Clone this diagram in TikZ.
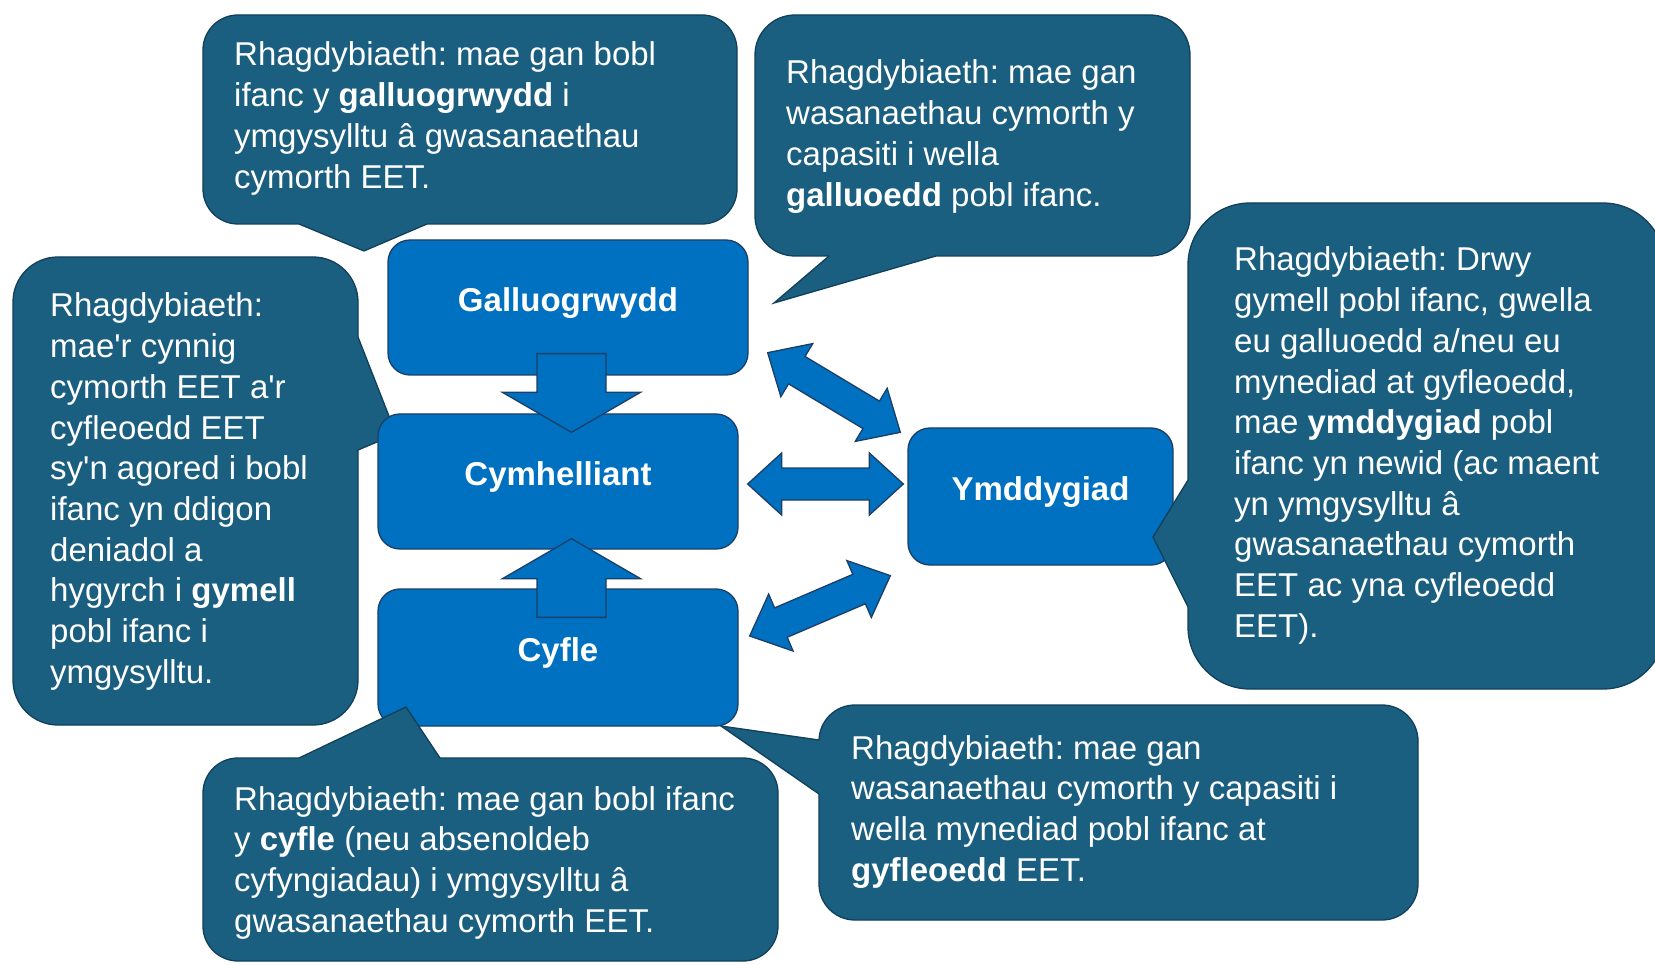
\documentclass[tikz,border=0pt]{standalone}
\usepackage{fontspec}
\setmainfont{Liberation Sans}
\usetikzlibrary{calc}
\definecolor{callfill}{HTML}{1A5E80}
\definecolor{callline}{HTML}{12405A}
\definecolor{boxfill}{HTML}{0070C0}
\definecolor{boxline}{HTML}{1B3F66}
\frenchspacing
\tikzset{
  callout/.style={fill=callfill, draw=callline, line width=1.3pt},
  tailedge/.style={draw=callline, line width=1.3pt, line join=miter},
  calltext/.style={anchor=base west, inner sep=0pt, text=white, font=\fontsize{33}{40.7}\selectfont\frenchspacing},
  box/.style={fill=boxfill, draw=boxline, line width=1.3pt, rounded corners=22pt, text=white,
    font=\fontsize{33}{40.7}\selectfont\bfseries, text height=24pt, text depth=16pt, inner sep=0pt},
  blockarrow/.style={fill=boxfill, draw=boxline, line width=1.3pt, line join=miter},
}
\newcommand{\lines}[1]{\begin{tabular}[t]{@{}l@{}}#1\end{tabular}}
% #1 radius, #2 #3 body corners, #4 tail base 1, #5 tail tip, #6 tail base 2, #7 shift into the body
\newcommand{\bubble}[7]{%
  \draw[callout, rounded corners=#1] #2 rectangle #3;
  \fill[callfill] ($#4+#7$) -- #4 -- #5 -- #6 -- ($#6+#7$) -- cycle;
  \draw[tailedge] #4 -- #5 -- #6;}
\newcommand{\singlearr}[2]{%
  \coordinate (sa) at ($(#2)!40pt!(#1)$);
  \draw[blockarrow] ($(#1)!34.5pt!90:(#2)$) -- ($(sa)!34.5pt!90:(#2)$) -- ($(sa)!69pt!90:(#2)$) -- (#2)
    -- ($(sa)!69pt!-90:(#2)$) -- ($(sa)!34.5pt!-90:(#2)$) -- ($(#1)!34.5pt!-90:(#2)$) -- cycle;}
\newcommand{\dblarr}[2]{%
  \coordinate (da1) at ($(#1)!34pt!(#2)$);
  \coordinate (da2) at ($(#2)!34pt!(#1)$);
  \draw[blockarrow] (#1) -- ($(da1)!31pt!90:(#2)$) -- ($(da1)!16pt!90:(#2)$) -- ($(da2)!16pt!-90:(#1)$)
    -- ($(da2)!31pt!-90:(#1)$) -- (#2) -- ($(da2)!31pt!90:(#1)$) -- ($(da2)!16pt!90:(#1)$)
    -- ($(da1)!16pt!-90:(#2)$) -- ($(da1)!31pt!-90:(#2)$) -- cycle;}
\begin{document}
\begin{tikzpicture}[x=1pt, y=-1pt]
\useasboundingbox (0,0) rectangle (1655,965);
\clip (0,0) rectangle (1655,965);
\fill[white] (0,0) rectangle (1655,965);

% top-left callout
\bubble{35pt}{(203,15)}{(737,224)}{(299,224)}{(364,251)}{(427,224)}{(0,-5)}
\node[calltext] (c1) at (234,66) {\lines{Rhagdybiaeth: mae gan bobl\\ifanc y \textbf{galluogrwydd} i\\ymgysylltu â gwasanaethau\\cymorth EET.}};

% top-middle callout
\bubble{40pt}{(755,15)}{(1190,256)}{(829,256)}{(774,303)}{(936,256)}{(0,-5)}
\node[calltext] (c2) at (786,84) {\lines{Rhagdybiaeth: mae gan\\wasanaethau cymorth y\\capasiti i wella\\\textbf{galluoedd} pobl ifanc.}};

% left callout
\bubble{45pt}{(13,257)}{(358,725)}{(358,337)}{(396,434)}{(358,450)}{(-5,0)}
\node[calltext] (c3) at (50,317) {\lines{Rhagdybiaeth:\\mae\textquotesingle r cynnig\\cymorth EET a\textquotesingle r\\cyfleoedd EET\\sy\textquotesingle n agored i bobl\\ifanc yn ddigon\\deniadol a\\hygyrch i \textbf{gymell}\\pobl ifanc i\\ymgysylltu.}};

% bottom-right callout
\bubble{36pt}{(819,705)}{(1418,920)}{(819,740)}{(721,726)}{(819,794)}{(5,0)}
\node[calltext] (c6) at (851,759) {\lines{Rhagdybiaeth: mae gan\\wasanaethau cymorth y capasiti i\\wella mynediad pobl ifanc at\\\textbf{gyfleoedd} EET.}};

% boxes
\node[box, minimum width=360pt, minimum height=135pt] (gal) at (568,307.5) {Galluogrwydd};
\node[box, minimum width=360pt, minimum height=135pt] (cym) at (558,481.5) {Cymhelliant};
\node[box, minimum width=360pt, minimum height=137pt] (cyf) at (558,657.5) {Cyfle};
\node[box, minimum width=265pt, minimum height=137pt] (ymd) at (1040.5,496.5) {Ymddygiad};

% bottom-left callout
\bubble{35pt}{(203,758)}{(778,961)}{(299,758)}{(406,707)}{(440,758)}{(0,5)}
\node[calltext] (c5) at (234,810) {\lines{Rhagdybiaeth: mae gan bobl ifanc\\y \textbf{cyfle} (neu absenoldeb\\cyfyngiadau) i ymgysylltu â\\gwasanaethau cymorth EET.}};

% right callout
\bubble{62pt}{(1188,203)}{(1665,689)}{(1188,480)}{(1153,537)}{(1188,607)}{(5,0)}
\node[calltext] (c4) at (1234,271) {\lines{Rhagdybiaeth: Drwy\\gymell pobl ifanc, gwella\\eu galluoedd a/neu eu\\mynediad at gyfleoedd,\\mae \textbf{ymddygiad} pobl\\ifanc yn newid (ac maent\\yn ymgysylltu â\\gwasanaethau cymorth\\EET ac yna cyfleoedd\\EET).}};

% block arrows
\coordinate (dA) at ($(gal.south)+(3.5,-22)$);
\coordinate (dT) at ($(cym.north)+(13.5,19)$);
\singlearr{dA}{dT}
\coordinate (uA) at ($(cyf.north)+(13.5,29)$);
\coordinate (uT) at ($(cym.south)+(13.5,-11)$);
\singlearr{uA}{uT}

\coordinate (h1) at ($(cym.east)+(9,2.5)$);
\coordinate (h2) at ($(ymd.west)+(-4,-12.5)$);
\dblarr{h1}{h2}
\coordinate (g1) at ($(gal.south east)+(19,-23)$);
\coordinate (g2) at ($(ymd.north west)+(-7,5)$);
\dblarr{g1}{g2}
\coordinate (f1) at ($(cyf.east)+(11,-21.5)$);
\coordinate (f2) at ($(ymd.south west)+(-17,10)$);
\dblarr{f1}{f2}
\end{tikzpicture}
\end{document}
